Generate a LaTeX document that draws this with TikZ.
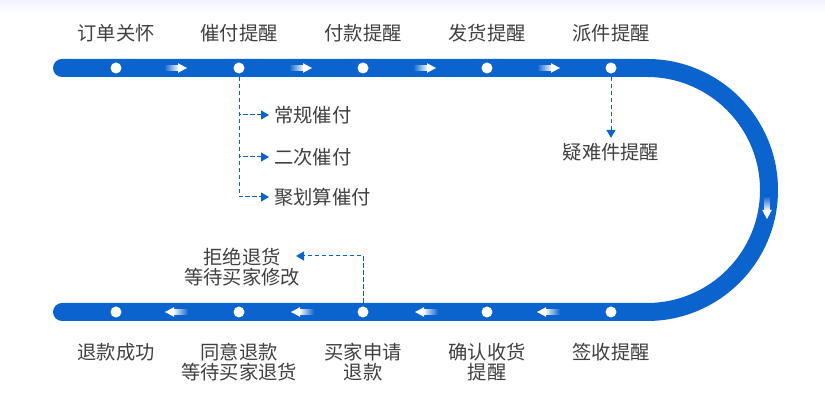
\documentclass[tikz,border=0pt]{standalone}
\usepackage{fontspec}
\setmainfont{Noto Sans CJK SC}
\usetikzlibrary{arrows.meta}
\definecolor{trackblue}{HTML}{0B63CE}
\definecolor{txtgray}{HTML}{404040}
\tikzset{
  track/.style={draw=trackblue, line width=18pt, line cap=round},
  dotnode/.style={circle, fill=white, inner sep=0pt, minimum size=11pt},
  lbl/.style={text=txtgray, font=\fontsize{19.3}{20.5}\selectfont, align=center, inner sep=1pt},
  dashline/.style={draw=trackblue, line width=1pt, dash pattern=on 4.5pt off 2.5pt},
  tipped/.style={dashline, -{Triangle[length=8pt,width=9pt]}},
  arrR/.pic={
    \shade[left color=trackblue, right color=white] (-12,-2.3) rectangle (3,2.3);
    \fill[white] (2,-4.8) -- (11,0) -- (2,4.8) -- cycle;},
  arrL/.pic={
    \shade[right color=trackblue, left color=white] (12,-2.3) rectangle (-3,2.3);
    \fill[white] (-2,-4.8) -- (-11,0) -- (-2,4.8) -- cycle;},
  arrD/.pic={
    \shade[bottom color=white, top color=trackblue] (-2.3,12) rectangle (2.3,-3);
    \fill[white] (-4.8,-2) -- (0,-11) -- (4.8,-2) -- cycle;}
}
\begin{document}
\begin{tikzpicture}[x=1pt,y=1pt]
\useasboundingbox (0,0) rectangle (825,404);
\fill[white] (0,0) rectangle (825,404);
\shade[top color=black!10!blue!5!white, bottom color=white] (0,391) rectangle (825,404);

% track
\draw[track] (62,336) -- (647,336) arc[start angle=90, end angle=-90, radius=122] -- (62,92);

% dots
\foreach \i/\x in {1/116,2/239,3/363,4/487,5/611}{
  \node[dotnode] (d\i) at (\x,336) {};
  \node[dotnode] (e\i) at (\x,92) {};
}
% flow arrows
\foreach \x in {176,301,425,549}{ \pic at (\x,336) {arrR}; }
\foreach \x in {176,302,426,548}{ \pic at (\x,92) {arrL}; }
\pic at (767,196) {arrD};

% top labels
\node[lbl] (t1) at (116,371) {订单关怀};
\node[lbl] (t2) at (239,371) {催付提醒};
\node[lbl] (t3) at (363,371) {付款提醒};
\node[lbl] (t4) at (487,371) {发货提醒};
\node[lbl] (t5) at (611,371) {派件提醒};

% 催付 branches
\node[lbl, anchor=west] (c1) at (273,289) {常规催付};
\node[lbl, anchor=west] (c2) at (273,247) {二次催付};
\node[lbl, anchor=west] (c3) at (273,207) {聚划算催付};
\coordinate (c2top) at (239,327);
\foreach \c in {c1,c2,c3}{
  \draw[tipped, shorten >=4pt] (c2top) |- (\c.west);
}

% 疑难件
\node[lbl] (y1) at (611,252) {疑难件提醒};
\coordinate (d5bot) at (611,327);
\draw[tipped] (d5bot) -- ([yshift=4pt]y1.north);

% bottom labels
\node[lbl] (b1) at (116,52) {退款成功};
\node[lbl] (b2) at (239,42) {同意退款\\等待买家退货};
\node[lbl] (b3) at (363,42) {买家申请\\退款};
\node[lbl] (b4) at (487,42) {确认收货\\提醒};
\node[lbl] (b5) at (611,52) {签收提醒};

% 拒绝退货
\node[lbl] (r1) at (242,137) {拒绝退货\\等待买家修改};
\coordinate (e3top) at (363,101);
\coordinate (rtip) at (296,148);
\draw[tipped] (e3top) |- (rtip);
\end{tikzpicture}
\end{document}
